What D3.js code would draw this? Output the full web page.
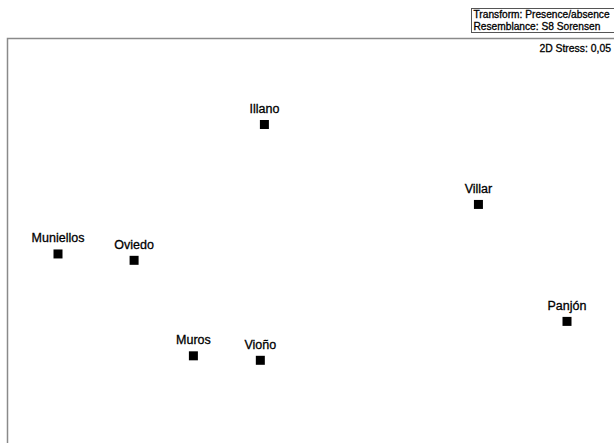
<!DOCTYPE html>
<html><head><meta charset="utf-8">
<script src="https://cdn.jsdelivr.net/npm/d3@7"></script>
<style>body{margin:0;background:#fff}svg{display:block}text{font-family:"Liberation Sans",Arial,sans-serif;fill:#000;stroke:#000;stroke-width:0.3px}</style>
</head><body><svg id="c" width="614" height="443"></svg>
<script>
const sites = ["Illano","Villar","Muniellos","Oviedo","Panjón","Muros","Vioño"];
const dim1 = [-0.189, 0.652, -1.0, -0.701, 1.0, -0.468, -0.205];
const dim2 = [1.0, 0.661, 0.451, 0.424, 0.165, 0.019, 0.0];
const infoLines = ["Transform: Presence/absence","Resemblance: S8 Sorensen"];
const stressLabel = "2D Stress: 0,05";

const svg = d3.select("#c");
const x = d3.scaleLinear().domain([-1,1]).range([58,567]);
const y = d3.scaleLinear().domain([0,1]).range([360.3,124.5]);

// frame
svg.append("path").attr("d","M7.5,443V38.5H614").attr("fill","none").attr("stroke","#8a8a8a").attr("stroke-width",1.5);

// info box
svg.append("rect").attr("x",471.5).attr("y",8.5).attr("width",150).attr("height",24)
  .attr("fill","#fff").attr("stroke","#555").attr("stroke-width",1);
svg.selectAll("text.info").data(infoLines).join("text").attr("class","info")
  .attr("x",473.5).attr("y",(d,i)=>17.8+i*12).attr("font-size",10.2).text(d=>d);

svg.append("text").attr("x",611).attr("y",51.5).attr("text-anchor","end").attr("font-size",10.4).text(stressLabel);

const pts = sites.map((s,i)=>({s, a:dim1[i], b:dim2[i]}));
const g = svg.selectAll("g.pt").data(pts).join("g").attr("class","pt")
  .attr("transform",d=>`translate(${x(d.a)},${y(d.b)})`);
g.append("rect").attr("x",-4.5).attr("y",-4.5).attr("width",9).attr("height",9).attr("fill","#000");
g.append("text").attr("y",-11.5).attr("text-anchor","middle").attr("font-size",12.5).text(d=>d.s);
</script></body></html>
